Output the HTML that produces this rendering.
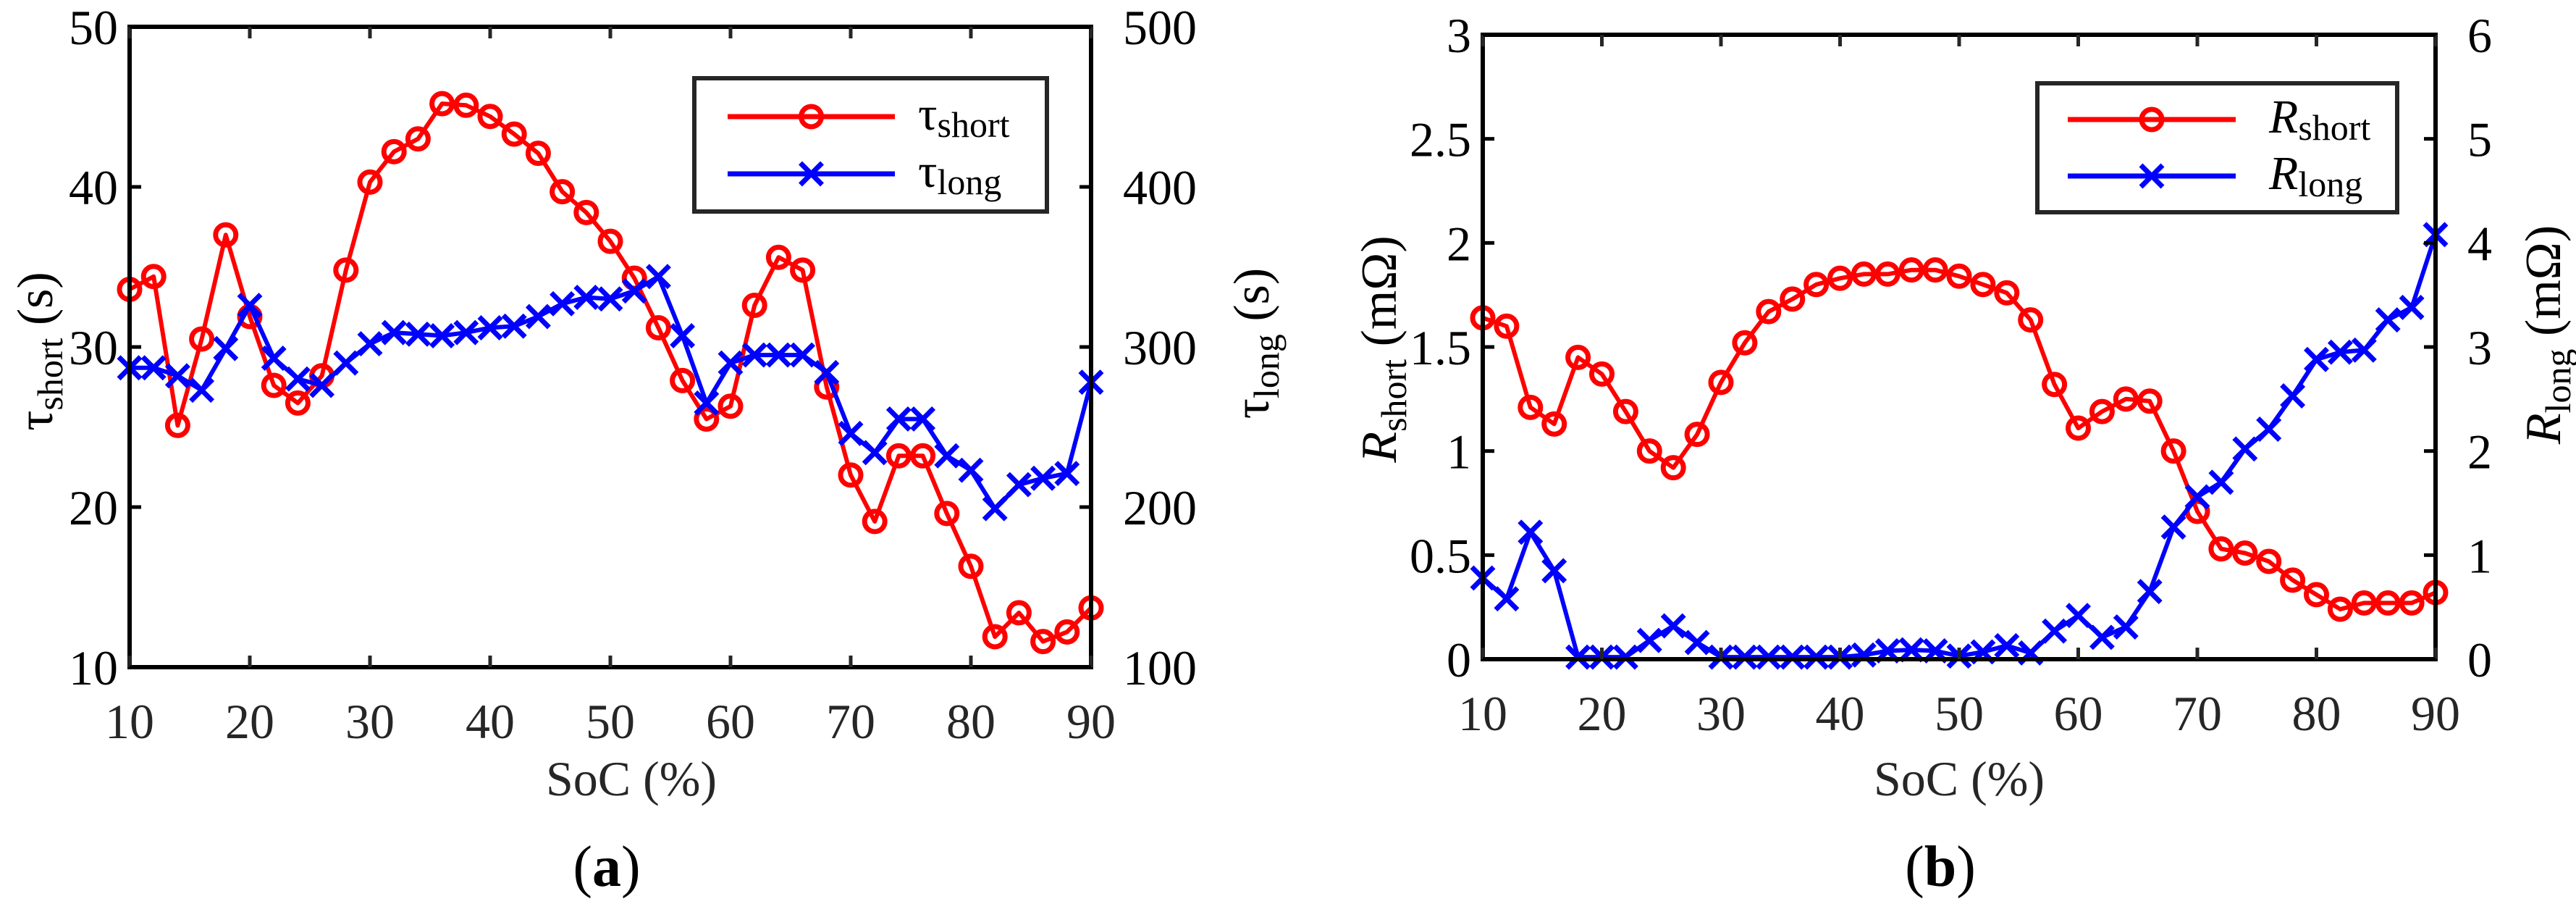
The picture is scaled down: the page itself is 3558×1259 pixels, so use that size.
<!DOCTYPE html>
<html><head><meta charset="utf-8"><style>
html,body{margin:0;padding:0;background:#fff;}
svg, svg text, svg tspan{font-family:"Liberation Serif","DejaVu Serif",serif !important;}
</style></head><body>
<svg id="fig" width="3558" height="1254" viewBox="0 0 3558 1254" xmlns="http://www.w3.org/2000/svg" font-family="Liberation Serif, DejaVu Serif, serif">
<rect width="3558" height="1254" fill="#fff"/>
<g id="panelA"></g>
<g id="panelB"></g>
</svg>
<script>
const socValues = [10,12,14,16,18,20,22,24,26,28,30,32,34,36,38,40,42,44,46,48,50,52,54,56,58,60,62,64,66,68,70,72,74,76,78,80,82,84,86,88,90];
const tauShort = [33.6,34.4,25.1,30.5,37.0,31.9,27.6,26.5,28.2,34.8,40.3,42.2,43.0,45.2,45.1,44.4,43.3,42.1,39.7,38.4,36.6,34.3,31.2,27.9,25.5,26.3,32.6,35.6,34.8,27.5,22.0,19.1,23.2,23.2,19.6,16.3,11.9,13.4,11.6,12.2,13.7];
const tauLong = [287,287,282,273,299,326,293,280,276,290,302,309,308,307,309,312,313,319,327,331,330,335,344,307,265,290,295,295,295,284,246,234,255,255,232,223,199,214,218,221,278];
const rShort = [1.64,1.60,1.21,1.13,1.45,1.37,1.19,1.00,0.92,1.08,1.33,1.52,1.67,1.73,1.80,1.83,1.85,1.85,1.87,1.87,1.84,1.80,1.76,1.63,1.32,1.11,1.19,1.25,1.24,1.00,0.71,0.53,0.51,0.47,0.38,0.31,0.24,0.27,0.27,0.27,0.32];
const rLong = [0.78,0.58,1.22,0.85,0.02,0.02,0.02,0.18,0.32,0.16,0.02,0.02,0.02,0.02,0.02,0.02,0.04,0.08,0.09,0.08,0.03,0.07,0.13,0.06,0.27,0.42,0.21,0.31,0.65,1.27,1.56,1.70,2.02,2.21,2.53,2.88,2.95,2.97,3.26,3.38,4.08];
const xTicks = [10,20,30,40,50,60,70,80,90];
const tauShortTicks = [10,20,30,40,50];
const tauLongTicks = [100,200,300,400,500];
const rShortTicks = [0,0.5,1,1.5,2,2.5,3];
const rShortTickLabels = ["0","0.5","1","1.5","2","2.5","3"];
const rLongTicks = [0,1,2,3,4,5,6];

const NS="http://www.w3.org/2000/svg";
const FF="Liberation Serif, DejaVu Serif, serif";
function mk(parent,tag,attrs){const e=document.createElementNS(NS,tag);for(const k in attrs)e.setAttribute(k,attrs[k]);if(tag==='text')e.setAttribute('font-family',FF);parent.appendChild(e);return e;}

function panel(g,cfg){
  const L=cfg.L,R=cfg.R,T=cfg.T,B=cfg.B;
  const xs=v=>L+(v-10)/80*(R-L);
  const yl=v=>B-(v-cfg.lMin)/(cfg.lMax-cfg.lMin)*(B-T);
  const yr=v=>B-(v-cfg.rMin)/(cfg.rMax-cfg.rMin)*(B-T);
  function series(vals,ys,color,marker,name){
    const sg=mk(g,'g',{});
    
    
    const pts=vals.map((v,i)=>xs(socValues[i]).toFixed(1)+','+ys(v).toFixed(1)).join(' ');
    const pl=mk(sg,'polyline',{points:pts,fill:'none',stroke:color,'stroke-width':6,'stroke-linejoin':'round'});
    
    
    vals.forEach((v,i)=>{
      const x=xs(socValues[i]),y=ys(v);
      let m;
      if(marker==='o'){m=mk(sg,'circle',{cx:x,cy:y,r:14,fill:'none',stroke:color,'stroke-width':7});}
      else{m=mk(sg,'path',{d:`M${x-15},${y-15}L${x+15},${y+15}M${x-15},${y+15}L${x+15},${y-15}`,stroke:color,'stroke-width':7,fill:'none'});}
      
      
    });
  }
  series(cfg.left,yl,'#ff0000','o',cfg.leftName);
  series(cfg.right,yr,'#0000ff','x',cfg.rightName);
  const box=mk(g,'rect',{x:L,y:T,width:R-L,height:B-T,fill:'none',stroke:'#000','stroke-width':6});
  
  
  const tl=16;
  xTicks.forEach(t=>{
    const x=xs(t);
    mk(g,'path',{d:`M${x},${B}V${B-tl}M${x},${T}V${T+tl}`,stroke:'#262626','stroke-width':5});
    const tx=mk(g,'text',{x:x,y:B+98,'font-size':68,'text-anchor':'middle',fill:'#262626'});
    tx.textContent=t;
    
    
  });
  cfg.lTicks.forEach((t,i)=>{
    const y=yl(t);
    mk(g,'path',{d:`M${L},${y}H${L+tl}`,stroke:'#000','stroke-width':5});
    const tx=mk(g,'text',{x:L-16,y:y+24,'font-size':68,'text-anchor':'end',fill:'#000'});
    tx.textContent=cfg.lLabels[i];
    
    
  });
  cfg.rTicks.forEach(t=>{
    const y=yr(t);
    mk(g,'path',{d:`M${R},${y}H${R-tl}`,stroke:'#000','stroke-width':5});
    const tx=mk(g,'text',{x:R+44,y:y+24,'font-size':68,'text-anchor':'start',fill:'#000'});
    tx.textContent=t;
    
    
  });
  const xl=mk(g,'text',{x:(L+R)/2+cfg.xlOff,y:1098,'font-size':68,'text-anchor':'middle',fill:'#262626'});
  xl.textContent='SoC (%)';
  
  
  function ylab(x,y,main,sub,name,italic){
    const t=mk(g,'text',{transform:`translate(${x},${y}) rotate(-90)`,'font-size':70,'text-anchor':'middle',fill:'#000'});
    t.innerHTML=`<tspan${italic?' font-style="italic"':''}>${main}</tspan><tspan font-size="50" dy="14">${sub}</tspan><tspan dy="-14"> (${cfg.unit})</tspan>`;
    
    
  }
  ylab(cfg.ylx,cfg.yly,cfg.sym,'short','left-y-axis-title',cfg.italic);
  ylab(cfg.yrx,cfg.yry,cfg.sym,'long','right-y-axis-title',cfg.italic);
  const lg=mk(g,'g',{});
  
  
  const lb=cfg.leg;
  mk(lg,'rect',{x:lb.x0,y:lb.y0,width:lb.x1-lb.x0,height:lb.y1-lb.y0,fill:'#fff',stroke:'#262626','stroke-width':6});
  [['#ff0000','o','short',lb.r1],['#0000ff','x','long',lb.r2]].forEach(([c,m,s,ry])=>{
    const e=mk(lg,'g',{});
    
    
    mk(e,'line',{x1:lb.lx0,x2:lb.lx1,y1:ry,y2:ry,stroke:c,'stroke-width':7});
    const mx=(lb.lx0+lb.lx1)/2;
    if(m==='o')mk(e,'circle',{cx:mx,cy:ry,r:14,fill:'none',stroke:c,'stroke-width':7});
    else mk(e,'path',{d:`M${mx-15},${ry-15}L${mx+15},${ry+15}M${mx-15},${ry+15}L${mx+15},${ry-15}`,stroke:c,'stroke-width':7});
    const t=mk(e,'text',{x:lb.tx,y:ry+18,'font-size':66,fill:'#000'});
    t.innerHTML=`<tspan${cfg.italic?' font-style="italic"':''}>${cfg.sym}</tspan><tspan font-size="50" dy="10">${s}</tspan>`;
  });
  const cap=mk(g,'text',{x:cfg.capX,y:1223,'font-size':80,'text-anchor':'middle',fill:'#000'});
  cap.innerHTML=`(<tspan font-weight="bold">${cfg.cap}</tspan>)`;
  
  
}

panel(document.getElementById('panelA'),{
  L:179,R:1507,T:37,B:921,lMin:10,lMax:50,rMin:100,rMax:500,
  left:tauShort,right:tauLong,leftName:'tau-short-series',rightName:'tau-long-series',
  lTicks:tauShortTicks,lLabels:tauShortTicks.map(String),rTicks:tauLongTicks,
  sym:'τ',italic:false,unit:'s',ylx:72,yly:485,yrx:1752,yry:474,xlOff:29,
  leg:{x0:959,x1:1446,y0:108,y1:292,lx0:1005,lx1:1236,r1:161,r2:240,tx:1268},
  capX:838,cap:'a'
});
panel(document.getElementById('panelB'),{
  L:2048,R:3364,T:48,B:910,lMin:0,lMax:3,rMin:0,rMax:6,
  left:rShort,right:rLong,leftName:'r-short-series',rightName:'r-long-series',
  lTicks:rShortTicks,lLabels:rShortTickLabels,rTicks:rLongTicks,
  sym:'R',italic:true,unit:'mΩ',ylx:1928,yly:482,yrx:3536,yry:462,xlOff:0,
  leg:{x0:2814,x1:3311,y0:115,y1:293,lx0:2856,lx1:3088,r1:165,r2:243,tx:3134},
  capX:2680,cap:'b'
});
</script>
</body></html>
